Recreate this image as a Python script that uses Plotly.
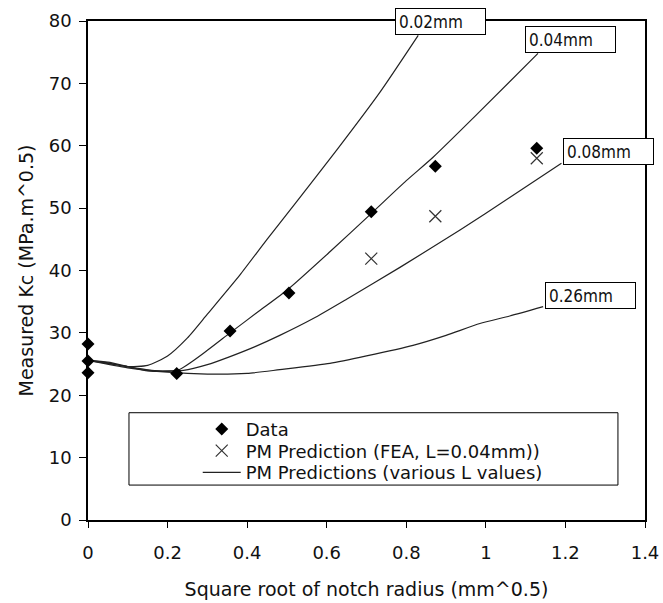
import plotly.graph_objects as go

# Measured critical stress intensity vs square root of notch radius
data_x = [0, 0, 0, 0.223, 0.357, 0.505, 0.712, 0.873, 1.128]
data_y = [28.2, 25.5, 23.6, 23.5, 30.3, 36.4, 49.4, 56.7, 59.6]

# Point-method predictions from FEA (L = 0.04 mm)
fea_x = [0.712, 0.873, 1.128]
fea_y = [41.9, 48.7, 58.0]

# Point-method prediction curves for several critical distances L
curve_labels = ["0.02mm", "0.04mm", "0.08mm", "0.26mm"]

pm_x_002 = [0, 0.05, 0.1, 0.15, 0.2, 0.25, 0.3, 0.382, 0.45, 0.524, 0.625, 0.734, 0.83]
pm_y_002 = [25.6, 25.2, 24.6, 24.8, 26.3, 29.2, 33.0, 39.3, 45.0, 51.0, 59.3, 68.6, 77.7]

pm_x_004 = [0, 0.05, 0.1, 0.15, 0.225, 0.3, 0.357, 0.43, 0.503, 0.608, 0.713, 0.8, 0.868, 0.985, 1.131]
pm_y_004 = [25.6, 25.3, 24.6, 23.9, 24.0, 27.2, 30.0, 33.5, 37.0, 43.0, 49.2, 54.4, 58.2, 65.5, 74.8]

pm_x_008 = [0, 0.08, 0.16, 0.24, 0.3, 0.357, 0.42, 0.482, 0.566, 0.65, 0.784, 0.935, 1.06, 1.19]
pm_y_008 = [25.6, 24.8, 24.0, 24.0, 24.9, 26.2, 27.8, 29.6, 32.3, 35.4, 40.5, 46.5, 51.7, 57.2]

pm_x_026 = [0, 0.1, 0.2, 0.3, 0.4, 0.482, 0.608, 0.7, 0.817, 0.9, 0.985, 1.06, 1.144]
pm_y_026 = [25.6, 24.4, 23.7, 23.4, 23.5, 24.1, 25.1, 26.3, 28.0, 29.6, 31.5, 32.7, 34.2]

pm_curves_x = [pm_x_002, pm_x_004, pm_x_008, pm_x_026]
pm_curves_y = [pm_y_002, pm_y_004, pm_y_008, pm_y_026]

# Label box offsets (px) relative to each curve's end point
label_shift_x = [-23, -13, 2, 2]
label_shift_y = [0, 0, -2, -2]

FONT = "DejaVu Sans, Verdana, sans-serif"
LABEL_FONT = "DejaVu Sans Condensed, DejaVu Sans, sans-serif"
INK = "#111111"

fig = go.Figure()

for i, (cx, cy) in enumerate(zip(pm_curves_x, pm_curves_y)):
    fig.add_trace(go.Scatter(
        x=cx, y=cy, mode="lines",
        line=dict(color="#222222", width=1.2, shape="spline", smoothing=0.6),
        name="PM Predictions (various L values)",
        legendgroup="pm", showlegend=(i == 0), legend="legend3",
        hoverinfo="skip",
    ))

fig.add_trace(go.Scatter(
    x=data_x, y=data_y, mode="markers", name="Data",
    marker=dict(symbol="diamond", size=10, color="black"),
    cliponaxis=False, legend="legend", showlegend=True,
))

fig.add_trace(go.Scatter(
    x=fea_x, y=fea_y, mode="markers", name="PM Prediction (FEA, L=0.04mm))",
    marker=dict(symbol="x-thin", size=12, line=dict(color="#333333", width=1.2)),
    cliponaxis=False, legend="legend2", showlegend=True,
))

# Boxed L labels at the end of each curve
for lab, cx, cy, dx, dy in zip(curve_labels, pm_curves_x, pm_curves_y, label_shift_x, label_shift_y):
    fig.add_annotation(
        x=cx[-1], y=cy[-1], xref="x", yref="y",
        text=lab, showarrow=False,
        xanchor="left", yanchor="bottom", xshift=dx, yshift=dy,
        width=83, height=19, align="left", valign="middle",
        borderpad=3, borderwidth=1, bordercolor="black", bgcolor="white",
        font=dict(family=LABEL_FONT, size=17, color=INK),
    )

# Legend frame
fig.add_shape(type="rect", xref="x", yref="y",
              x0=0.103, x1=1.332, y0=5.6, y1=17.2,
              line=dict(color="black", width=1), fillcolor="white", layer="below")

legend_common = dict(
    xref="paper", yref="paper", x=0.197, xanchor="left", yanchor="middle",
    bgcolor="rgba(0,0,0,0)", borderwidth=0, itemwidth=38, visible=True,
    font=dict(family=FONT, size=18, color=INK),
)

axis_common = dict(
    showline=True, linecolor="black", linewidth=1.5, mirror=True,
    ticks="outside", tickcolor="black", showgrid=False, zeroline=False,
    automargin=False,
    tickfont=dict(family=FONT, size=18, color=INK),
)

fig.update_layout(
    width=663, height=603,
    margin=dict(l=88, r=18, t=21, b=83, autoexpand=False),
    paper_bgcolor="white", plot_bgcolor="white",
    showlegend=True,
    font=dict(family=FONT, size=18, color=INK),
    xaxis=dict(range=[0, 1.4], dtick=0.2, tick0=0, ticklen=6, ticklabelstandoff=10,
               title=dict(text="Square root of notch radius (mm^0.5)",
                          font=dict(family=FONT, size=19, color=INK), standoff=20),
               **axis_common),
    yaxis=dict(range=[0, 80], dtick=10, tick0=0, ticklen=7, ticklabelstandoff=4,
               title=dict(text="Measured Kc (MPa.m^0.5)",
                          font=dict(family=FONT, size=19, color=INK), standoff=10),
               **axis_common),
    legend=dict(y=0.1818, **legend_common),
    legend2=dict(y=0.1383, **legend_common),
    legend3=dict(y=0.0948, **legend_common),
)

fig.write_html("out.html")
